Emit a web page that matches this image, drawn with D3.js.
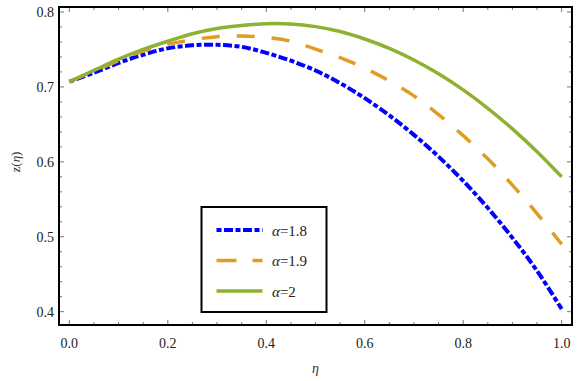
<!DOCTYPE html>
<html><head><meta charset="utf-8">
<script src="https://cdn.jsdelivr.net/npm/d3@7"></script>
<style>body{margin:0;background:#fff}svg{display:block}</style>
</head><body>
<svg id="c" width="585" height="381"></svg>
<script>
const eta = [0,0.05,0.1,0.15,0.2,0.25,0.3,0.35,0.4,0.45,0.5,0.55,0.6,0.65,0.7,0.75,0.8,0.85,0.9,0.95,1.0];
const z18 = [0.707,0.719,0.732,0.743,0.7515,0.7555,0.7562,0.7535,0.7455,0.735,0.722,0.705,0.685,0.662,0.636,0.607,0.5745,0.5385,0.4985,0.4545,0.4035];
const z19 = [0.707,0.721,0.735,0.748,0.757,0.763,0.767,0.768,0.766,0.761,0.7505,0.739,0.725,0.708,0.688,0.663,0.635,0.604,0.569,0.531,0.490];
const z20 = [0.707,0.722,0.737,0.750,0.761,0.771,0.778,0.782,0.7845,0.784,0.7805,0.774,0.764,0.7515,0.736,0.7175,0.696,0.6715,0.644,0.6135,0.580];
const seriesNames = ["\u03b1=1.8","\u03b1=1.9","\u03b1=2"];
const xTicks = [0,0.2,0.4,0.6,0.8,1.0];
const yTicks = [0.4,0.5,0.6,0.7,0.8];
const xMinor = [0.05,0.1,0.15,0.25,0.3,0.35,0.45,0.5,0.55,0.65,0.7,0.75,0.85,0.9,0.95];
const yMinor = [0.42,0.44,0.46,0.48,0.52,0.54,0.56,0.58,0.62,0.64,0.66,0.68,0.72,0.74,0.76,0.78];

const svg = d3.select("#c");
const L=59,R=572,T=7,B=325;
const x = d3.scaleLinear().domain([-0.021,1.021]).range([L,R]);
const y = d3.scaleLinear().domain([0.3822,0.8067]).range([B,T]);

const series = [
  {name:seriesNames[0], vals:z18, color:"#0000ff", w:4, dash:"5,2.5,9,2.5"},
  {name:seriesNames[1], vals:z19, color:"#e19c24", w:3.5, dash:"18,17"},
  {name:seriesNames[2], vals:z20, color:"#8fb131", w:3.5, dash:null}
];

svg.append("clipPath").attr("id","pc").append("rect")
  .attr("x",L).attr("y",T).attr("width",R-L).attr("height",B-T);

const line = d3.line().x(d=>x(d[0])).y(d=>y(d[1])).curve(d3.curveCatmullRom.alpha(0.5));
const g = svg.append("g").attr("clip-path","url(#pc)");
series.forEach(s=>{
  g.append("path").datum(eta.map((e,i)=>[e,s.vals[i]]))
   .attr("d",line).attr("fill","none").attr("stroke",s.color)
   .attr("stroke-width",s.w).attr("stroke-dasharray",s.dash);
});

// ticks
const tg = svg.append("g").attr("stroke","#777").attr("stroke-width",1);
function xt(vals,len){vals.forEach(v=>{
  tg.append("line").attr("x1",x(v)).attr("x2",x(v)).attr("y1",B).attr("y2",B-len);
  tg.append("line").attr("x1",x(v)).attr("x2",x(v)).attr("y1",T).attr("y2",T+len);
});}
function yt(vals,len){vals.forEach(v=>{
  tg.append("line").attr("y1",y(v)).attr("y2",y(v)).attr("x1",L).attr("x2",L+len);
  tg.append("line").attr("y1",y(v)).attr("y2",y(v)).attr("x1",R).attr("x2",R-len);
});}
xt(xTicks,5); xt(xMinor,3); yt(yTicks,5); yt(yMinor,3);

svg.append("rect").attr("x",L).attr("y",T).attr("width",R-L).attr("height",B-T)
  .attr("fill","none").attr("stroke","#000").attr("stroke-width",2);

const font = "'Liberation Serif','Times New Roman',serif";
svg.append("g").selectAll("text").data(xTicks).join("text")
  .attr("x",d=>x(d)).attr("y",348).attr("text-anchor","middle")
  .attr("font-family",font).attr("font-size",14).attr("fill","#222")
  .text(d=>d3.format(".1f")(d));
svg.append("g").selectAll("text").data(yTicks).join("text")
  .attr("x",54).attr("y",d=>y(d)+5).attr("text-anchor","end")
  .attr("font-family",font).attr("font-size",14).attr("fill","#222")
  .text(d=>d3.format(".1f")(d));

svg.append("text").attr("x",(L+R)/2).attr("y",373).attr("text-anchor","middle")
  .attr("font-family",font).attr("font-size",14).attr("font-style","italic").attr("fill","#333").text("\u03b7");
const yl = svg.append("text").attr("transform","translate(20,162) rotate(-90)").attr("text-anchor","middle")
  .attr("font-family",font).attr("font-size",13).attr("fill","#333");
yl.append("tspan").text("z(");
yl.append("tspan").attr("font-style","italic").text("\u03b7");
yl.append("tspan").text(")");

// legend
svg.append("rect").attr("x",201.5).attr("y",207).attr("width",125).attr("height",105)
  .attr("fill","#fff").attr("stroke","#000").attr("stroke-width",2);
series.forEach((s,i)=>{
  const ly = 230 + i*30.5;
  svg.append("line").attr("x1",216.5).attr("x2",262.5).attr("y1",ly).attr("y2",ly)
    .attr("stroke",s.color).attr("stroke-width",s.w).attr("stroke-dasharray",s.dash ? (i==1?"20,16":s.dash) : null);
  const t = svg.append("text").attr("x",272).attr("y",ly+5.5).attr("font-family",font).attr("font-size",15).attr("fill","#222");
  t.append("tspan").attr("font-style","italic").text("\u03b1");
  t.append("tspan").text(s.name.slice(1));
});
</script>
</body></html>
